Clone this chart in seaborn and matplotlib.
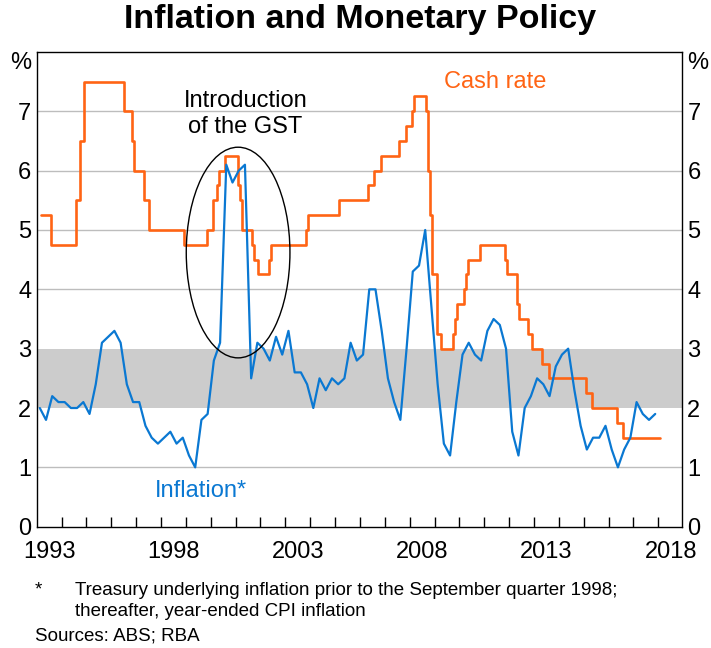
import pandas as pd
import matplotlib
matplotlib.use("Agg")
import matplotlib.pyplot as plt
import seaborn as sns
from matplotlib.patches import Ellipse

# quarterly inflation, year-ended %, 1993Q1 - 2017Q4
quarters = pd.period_range("1993Q1", "2017Q4", freq="Q")
inflation = [
    2.0, 1.8, 2.2, 2.1,
    2.1, 2.0, 2.0, 2.1,
    1.9, 2.4, 3.1, 3.2,
    3.3, 3.1, 2.4, 2.1,
    2.1, 1.7, 1.5, 1.4,
    1.5, 1.6, 1.4, 1.5,
    1.2, 1.0, 1.8, 1.9,
    2.8, 3.1, 6.1, 5.8,
    6.0, 6.1, 2.5, 3.1,
    3.0, 2.8, 3.2, 2.9,
    3.3, 2.6, 2.6, 2.4,
    2.0, 2.5, 2.3, 2.5,
    2.4, 2.5, 3.1, 2.8,
    2.9, 4.0, 4.0, 3.3,
    2.5, 2.1, 1.8, 3.0,
    4.3, 4.4, 5.0, 3.7,
    2.4, 1.4, 1.2, 2.1,
    2.9, 3.1, 2.9, 2.8,
    3.3, 3.5, 3.4, 3.0,
    1.6, 1.2, 2.0, 2.2,
    2.5, 2.4, 2.2, 2.7,
    2.9, 3.0, 2.3, 1.7,
    1.3, 1.5, 1.5, 1.7,
    1.3, 1.0, 1.3, 1.5,
    2.1, 1.9, 1.8, 1.9,
]

# cash rate target: month of each change and new rate
cash_dates = [
    "1993-03", "1993-08", "1994-08", "1994-10", "1994-12", "1996-07",
    "1996-11", "1996-12", "1997-05", "1997-07", "1998-12", "1999-11",
    "2000-02", "2000-04", "2000-05", "2000-08", "2001-02", "2001-03",
    "2001-04", "2001-09", "2001-10", "2001-12", "2002-05", "2002-06",
    "2003-11", "2003-12", "2005-03", "2006-05", "2006-08", "2006-11",
    "2007-08", "2007-11", "2008-02", "2008-03", "2008-09", "2008-10",
    "2008-11", "2008-12", "2009-02", "2009-04", "2009-10", "2009-11",
    "2009-12", "2010-03", "2010-04", "2010-05", "2010-11", "2011-11",
    "2011-12", "2012-05", "2012-06", "2012-10", "2012-12", "2013-05",
    "2013-08", "2015-02", "2015-05", "2016-05", "2016-08", "2018-02",
]
cash_rates = [
    5.25, 4.75, 5.50, 6.50, 7.50, 7.00,
    6.50, 6.00, 5.50, 5.00, 4.75, 5.00,
    5.50, 5.75, 6.00, 6.25, 5.75, 5.50,
    5.00, 4.75, 4.50, 4.25, 4.50, 4.75,
    5.00, 5.25, 5.50, 5.75, 6.00, 6.25,
    6.50, 6.75, 7.00, 7.25, 7.00, 6.00,
    5.25, 4.25, 3.25, 3.00, 3.25, 3.50,
    3.75, 4.00, 4.25, 4.50, 4.75, 4.50,
    4.25, 3.75, 3.50, 3.25, 3.00, 2.75,
    2.50, 2.25, 2.00, 1.75, 1.50, 1.50,
]

year_labels = ["1993", "1998", "2003", "2008", "2013", "2018"]
y_ticks = [0, 1, 2, 3, 4, 5, 6, 7]

infl = pd.DataFrame({"x": quarters.year + (quarters.quarter - 0.5) / 4,
                     "value": inflation})
cd = pd.to_datetime(cash_dates)
cash = pd.DataFrame({"x": cd.year + (cd.month - 1) / 12, "value": cash_rates})

sns.set_theme(style="white")
plt.rcParams["font.family"] = ["Liberation Sans", "DejaVu Sans"]
plt.rcParams["text.color"] = "black"
plt.rcParams["xtick.color"] = "black"
plt.rcParams["ytick.color"] = "black"

orange = "#ff6414"
blue = "#0a78d2"

fig = plt.figure(figsize=(7.11, 6.48), dpi=100)
ax = fig.add_axes([0.0516, 0.1872, 0.9072, 0.7326])

ax.axhspan(2, 3, color="#cccccc", lw=0, zorder=0)
for y in [1, 4, 5, 6, 7]:
    ax.axhline(y, color="#bdbdbd", lw=1, zorder=0.5)

sns.lineplot(data=cash, x="x", y="value", ax=ax, color=orange, lw=1.9,
             drawstyle="steps-post", zorder=3)
sns.lineplot(data=infl, x="x", y="value", ax=ax, color=blue, lw=1.6, zorder=4)

ax.add_patch(Ellipse((2001.1, 4.62), 4.17, 3.55, fill=False, ec="black",
                     lw=1, zorder=5))

ax.set_xlim(1993, 2018.94)
ax.set_ylim(0, 8)
ax.set_xlabel("")
ax.set_ylabel("")

ax.set_xticks(range(1994, 2019))
ax.set_xticklabels([])
ax.set_xticks([int(y) + 0.5 for y in year_labels], labels=year_labels, minor=True)
ax.tick_params(axis="x", which="major", direction="in", length=7, width=1,
               color="black", bottom=True)
ax.tick_params(axis="x", which="minor", length=0, pad=10, labelsize=17,
               labelcolor="black")

ax.set_yticks(y_ticks, labels=[str(v) for v in y_ticks])
ax.tick_params(axis="y", length=0, labelsize=17, labelleft=True,
               labelright=True, pad=4, labelcolor="black")

for s in ax.spines.values():
    s.set_color("black")
    s.set_linewidth(1)

ax.annotate("%", xy=(0, 7.82), xycoords=("axes fraction", "data"),
            xytext=(-4, 0), textcoords="offset points", ha="right",
            va="center", fontsize=17)
ax.annotate("%", xy=(1, 7.82), xycoords=("axes fraction", "data"),
            xytext=(4, 0), textcoords="offset points", ha="left",
            va="center", fontsize=17)

ax.text(2009.38, 7.5, "Cash rate", color=orange, fontsize=17,
        ha="left", va="center")
ax.text(1999.6, 0.6, "Inflation*", color=blue, fontsize=17,
        ha="center", va="center")
ax.text(2001.4, 6.96, "Introduction\nof the GST", color="black", fontsize=17,
        ha="center", va="center", linespacing=1.25)

fig.text(0.506, 0.970, "Inflation and Monetary Policy", ha="center",
         va="center", fontsize=24.5, fontweight="bold")
foot = 13.5
fig.text(0.049, 0.089, "*", ha="left", va="center", fontsize=foot)
fig.text(0.105, 0.089, "Treasury underlying inflation prior to the September quarter 1998;",
         ha="left", va="center", fontsize=foot)
fig.text(0.105, 0.056, "thereafter, year-ended CPI inflation",
         ha="left", va="center", fontsize=foot)
fig.text(0.049, 0.019, "Sources: ABS; RBA", ha="left", va="center",
         fontsize=foot)

fig.savefig("out.png", dpi=100)
